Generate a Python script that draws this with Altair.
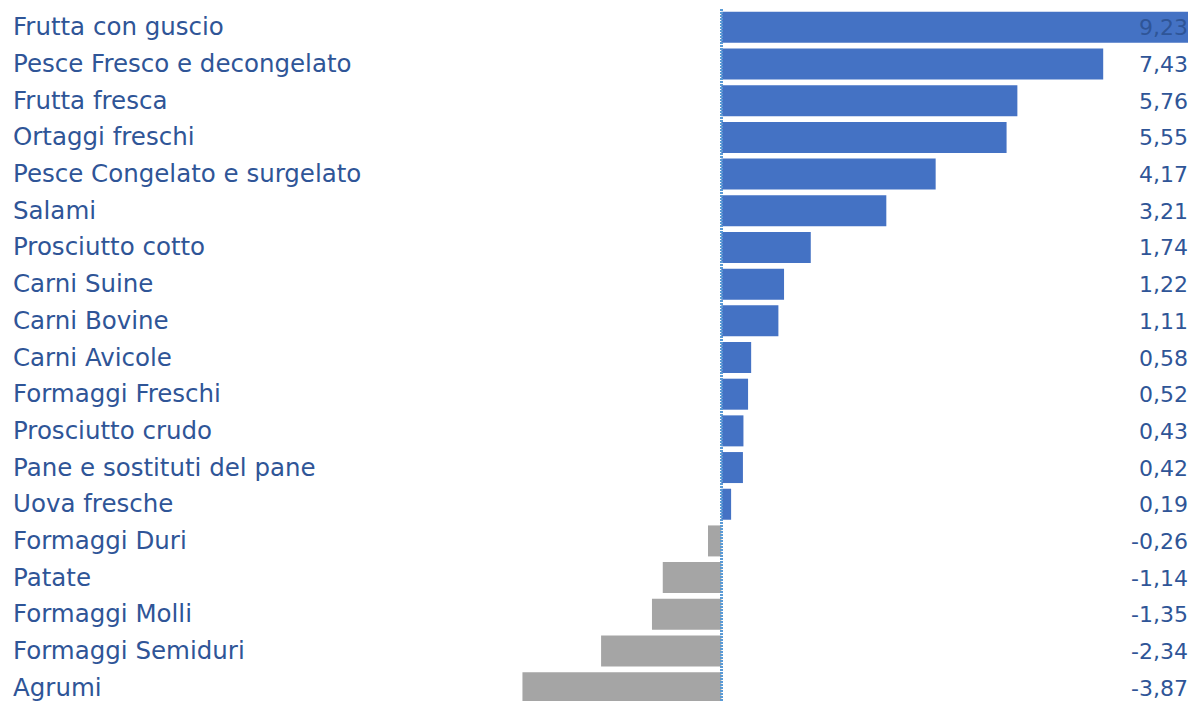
import altair as alt
import pandas as pd

categories = [
    "Frutta con guscio", "Pesce Fresco e decongelato", "Frutta fresca",
    "Ortaggi freschi", "Pesce Congelato e surgelato", "Salami",
    "Prosciutto cotto", "Carni Suine", "Carni Bovine", "Carni Avicole",
    "Formaggi Freschi", "Prosciutto crudo", "Pane e sostituti del pane",
    "Uova fresche", "Formaggi Duri", "Patate", "Formaggi Molli",
    "Formaggi Semiduri", "Agrumi",
]
values = [9.23, 7.43, 5.76, 5.55, 4.17, 3.21, 1.74, 1.22, 1.11, 0.58,
          0.52, 0.43, 0.42, 0.19, -0.26, -1.14, -1.35, -2.34, -3.87]

df = pd.DataFrame({"cat": categories, "v": values})

FONT = "DejaVu Sans"
TXT = "#2F5597"

yenc = alt.Y("cat:N", sort=categories, axis=None,
             scale=alt.Scale(range=[0, 697], paddingInner=0.155, paddingOuter=0.0775))
xscale = alt.Scale(domain=[-13.88, 9.08], range=[0, 1180], nice=False, zero=False)

base = alt.Chart(df)

bars = base.mark_bar(clip=True).encode(
    y=yenc,
    x=alt.X("v:Q", scale=xscale, axis=None),
    x2=alt.datum(0),
    color=alt.condition("datum.v >= 0", alt.value("#4472C4"), alt.value("#A5A5A5")),
)

zero = base.mark_rule(color="#5B9BD5", strokeDash=[2, 1], strokeWidth=2, clip=True).encode(
    x=alt.datum(0),
    y=alt.value(0),
    y2=alt.value(700),
)

names = base.mark_text(align="left", baseline="middle", font=FONT, fontSize=24.5,
                       color=TXT, clip=True, dy=1).encode(
    y=yenc,
    x=alt.value(5),
    text="cat:N",
)

nums = base.transform_calculate(
    lab="replace(replace(format(datum.v, '.2f'), '.', ','), '\u2212', '-')"
).mark_text(align="right", baseline="middle", font=FONT, fontSize=22,
            color=TXT, clip=True, dy=1).encode(
    y=yenc,
    x=alt.value(1180),
    text="lab:N",
)

chart = alt.layer(bars, zero, names, nums).properties(
    width=1180, height=692,
    padding={"left": 0, "right": 0, "top": 1, "bottom": 0},
    autosize=alt.AutoSizeParams(type="none"),
).configure_view(stroke=None)

chart.save("out.html", embed_options={"renderer": "svg", "actions": False})
